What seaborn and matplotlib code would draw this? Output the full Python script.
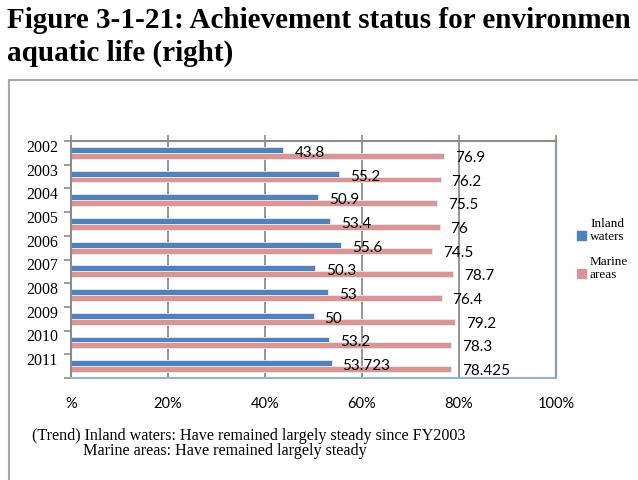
import numpy as np
import pandas as pd
import matplotlib
matplotlib.use('Agg')
import matplotlib.pyplot as plt
import matplotlib.transforms as mtransforms
from matplotlib.patches import Rectangle
from matplotlib.lines import Line2D
import seaborn as sns

# Dados do gráfico
years = ['2002', '2003', '2004', '2005', '2006', '2007', '2008', '2009', '2010', '2011']
inland = [43.8, 55.2, 50.9, 53.4, 55.6, 50.3, 53, 50, 53.2, 53.723]
marine = [76.9, 76.2, 75.5, 76, 74.5, 78.7, 76.4, 79.2, 78.3, 78.425]
areas = ['Inland waters', 'Marine areas']
legend_lines = [['Inland', 'waters'], ['Marine', 'areas']]
x_ticks = [0, 20, 40, 60, 80, 100]
x_tick_labels = ['%', '20%', '40%', '60%', '80%', '100%']
# o título aparece cortado na borda da imagem original
title_lines = ['Figure 3-1-21: Achievement status for environmen',
               'aquatic life (right)']
note_lines = ['(Trend) Inland waters: Have remained largely steady since FY2003',
              'Marine areas: Have remained largely steady']

colors = ['#4F81BD', '#D99694']
grey = '#8C8C8C'
W, H = 638, 480

df = pd.DataFrame({'year': years * 2,
                   'area': [areas[0]] * len(years) + [areas[1]] * len(years),
                   'value': inland + marine})

sns.set_style('white')
plt.rcParams['text.color'] = 'black'
plt.rcParams['xtick.labelcolor'] = 'black'
plt.rcParams['ytick.labelcolor'] = 'black'

fig = plt.figure(figsize=(W / 100, H / 100), dpi=100)
ax = fig.add_axes([71 / W, 1 - 378 / H, 485 / W, 237 / H])

sns.barplot(data=df, x='value', y='year', hue='area', hue_order=areas, order=years,
            palette=colors, saturation=1, width=0.5, orient='h', legend=False,
            edgecolor='#E6ECF5', linewidth=0.6, ax=ax)

# rótulos dos valores
offsets = [(11, -3), (11, -2)]
for cont, vals, off in zip(ax.containers, [inland, marine], offsets):
    for bar, v in zip(cont, vals):
        ax.annotate(f'{v:g}', (bar.get_width(), bar.get_y() + bar.get_height() / 2),
                    xytext=off, textcoords='offset pixels', ha='left', va='center',
                    fontfamily='Lato', fontsize=11, color='black')

ax.set_xlim(0, 100)
ax.set_ylim(len(years) - 0.5, -0.5)
ax.set_xlabel('')
ax.set_ylabel('')
ax.set_xticks(x_ticks)
ax.set_xticklabels(x_tick_labels, fontfamily='Lato', fontsize=10.5)
ax.tick_params(axis='x', bottom=False, top=True, length=4, width=1.2, color=grey, pad=10)
ax.grid(axis='x', color=grey, linewidth=1.3)
ax.set_axisbelow(True)

ax.set_yticks(range(len(years)))
ax.set_yticklabels(years, fontfamily='Liberation Serif', fontsize=11.4)
ax.set_yticks(np.arange(-0.5, len(years), 1), minor=True)
ax.tick_params(axis='y', which='major', length=0, pad=9.4)
ax.tick_params(axis='y', which='minor', left=True, length=5, width=1.2, color=grey, direction='out')
shift = mtransforms.ScaledTranslation(0, 7 / 100, fig.dpi_scale_trans)
for lbl in ax.get_yticklabels():
    lbl.set_transform(lbl.get_transform() + shift)

ax.spines['top'].set_color(grey)
ax.spines['left'].set_color(grey)
ax.spines['right'].set_color('#7F9CC6')
ax.spines['bottom'].set_color('#95B3D7')
for s in ax.spines.values():
    s.set_linewidth(1.5)

# título
fig.text(7 / W, 1 - 27.5 / H, title_lines[0], fontfamily='Liberation Serif',
         fontweight='bold', fontsize=21, va='baseline')
fig.text(7 / W, 1 - 61 / H, title_lines[1], fontfamily='Liberation Serif',
         fontweight='bold', fontsize=21, va='baseline')

# moldura
fig.add_artist(Line2D([9 / W, 9 / W], [0, 1 - 80 / H], color='#A6A6A6', lw=1.5))
fig.add_artist(Line2D([9 / W, 1], [1 - 80 / H, 1 - 80 / H], color='#A6A6A6', lw=1.5))

# legenda
for i, (c, lines) in enumerate(zip(colors, legend_lines)):
    base = 240 + i * 38
    fig.add_artist(Rectangle((577 / W, 1 - base / H), 9 / W, 9 / H,
                             transform=fig.transFigure, color=c))
    fig.text(590 / W, 1 - (base - 13) / H, lines[0], fontfamily='Liberation Serif',
             fontsize=9.5, va='baseline')
    fig.text(590 / W, 1 - base / H, lines[1], fontfamily='Liberation Serif',
             fontsize=9.5, va='baseline')

# nota
fig.text(32 / W, 1 - 440 / H, note_lines[0], fontfamily='Liberation Serif',
         fontsize=11.6, va='baseline')
fig.text(83 / W, 1 - 455 / H, note_lines[1], fontfamily='Liberation Serif',
         fontsize=11.6, va='baseline')

fig.savefig('out.png', dpi=100)
